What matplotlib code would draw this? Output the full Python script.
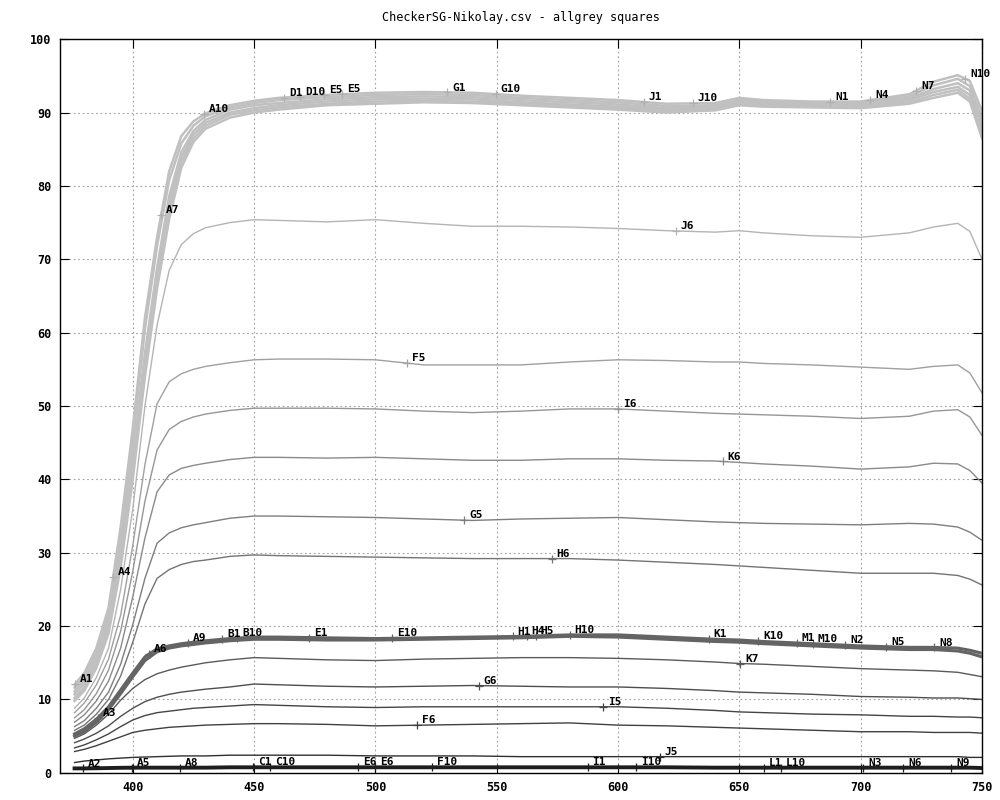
import matplotlib
matplotlib.use("Agg")
import matplotlib.pyplot as plt
import numpy as np

# wavelengths (nm)
W = [376, 380, 385, 390, 395, 400, 405, 410, 415, 420, 425, 430, 440, 450,
     460, 480, 500, 520, 540, 560, 580, 600, 620, 640, 650, 660, 680, 700,
     720, 730, 740, 745, 750]

# white squares (several patches, overlapping)
white_a = [12.0, 13.6, 17.0, 22.5, 33.5, 47.0, 62.0, 73.0, 82.0, 86.8, 88.8, 89.9, 91.0, 91.6,
           92.0, 92.4, 92.7, 92.8, 92.7, 92.3, 92.0, 91.7, 91.2, 91.3, 92.0, 91.7, 91.5, 91.5,
           92.5, 94.2, 95.1, 94.3, 90.2]
white_b = [11.6, 13.1, 16.4, 21.6, 32.2, 45.4, 60.5, 71.8, 80.8, 85.8, 88.2, 89.5, 90.7, 91.3,
           91.7, 92.1, 92.4, 92.5, 92.4, 92.0, 91.7, 91.4, 90.9, 91.0, 91.8, 91.5, 91.3, 91.3,
           92.2, 93.7, 94.6, 93.6, 89.3]
white_c = [11.1, 12.6, 15.8, 20.8, 30.6, 43.2, 57.2, 68.8, 78.6, 84.6, 87.5, 89.0, 90.4, 91.0,
           91.3, 91.8, 92.1, 92.2, 92.1, 91.7, 91.4, 91.1, 90.6, 90.8, 91.6, 91.3, 91.1, 91.1,
           91.9, 93.2, 94.0, 93.0, 88.5]
white_d = [10.7, 12.1, 15.2, 20.2, 29.8, 42.0, 56.0, 67.8, 77.6, 83.9, 87.0, 88.6, 90.0, 90.6,
           91.0, 91.5, 91.8, 91.9, 91.8, 91.4, 91.1, 90.8, 90.4, 90.6, 91.4, 91.2, 91.0, 90.9,
           91.7, 92.8, 93.5, 92.4, 87.8]
white_e = [10.2, 11.6, 14.7, 19.6, 28.8, 41.0, 55.0, 66.9, 76.5, 83.2, 86.5, 88.2, 89.7, 90.3,
           90.7, 91.2, 91.5, 91.6, 91.5, 91.2, 90.9, 90.6, 90.2, 90.4, 91.2, 91.0, 90.8, 90.8,
           91.4, 92.4, 93.1, 91.9, 87.2]
white_f = [9.8, 11.2, 14.3, 19.0, 28.0, 40.0, 54.0, 66.0, 75.5, 82.5, 86.0, 87.8, 89.3, 90.0,
           90.4, 91.0, 91.2, 91.4, 91.3, 91.0, 90.7, 90.4, 90.0, 90.3, 91.0, 90.8, 90.7, 90.6,
           91.2, 92.0, 92.7, 91.5, 86.5]

# single grey patches
J6 = [8.8, 10.2, 13.0, 17.0, 25.0, 36.0, 50.0, 61.0, 68.5, 72.0, 73.5, 74.3, 75.0, 75.4,
      75.3, 75.1, 75.4, 74.9, 74.5, 74.5, 74.4, 74.2, 73.9, 73.7, 73.9, 73.6, 73.2, 73.0,
      73.6, 74.4, 74.9, 73.8, 70.0]
F5 = [8.2, 9.5, 12.0, 15.5, 21.5, 31.0, 42.0, 50.3, 53.3, 54.4, 55.0, 55.4, 55.9, 56.3,
      56.4, 56.4, 56.3, 55.6, 55.6, 55.6, 56.0, 56.3, 56.2, 56.0, 56.0, 55.8, 55.6, 55.3,
      55.0, 55.4, 55.6, 54.5, 51.8]
I6 = [7.5, 8.6, 10.8, 14.0, 19.3, 27.5, 37.0, 44.0, 46.8, 47.9, 48.5, 48.9, 49.4, 49.7,
      49.7, 49.7, 49.6, 49.3, 49.1, 49.3, 49.6, 49.6, 49.3, 49.0, 48.9, 48.8, 48.6, 48.3,
      48.6, 49.3, 49.5, 48.5, 46.0]
K6 = [6.9, 7.9, 9.8, 12.5, 17.0, 24.0, 32.0, 38.3, 40.6, 41.5, 41.9, 42.2, 42.7, 43.0,
      43.0, 42.9, 43.0, 42.8, 42.6, 42.6, 42.8, 42.8, 42.6, 42.5, 42.3, 42.1, 41.8, 41.4,
      41.7, 42.2, 42.1, 41.2, 39.5]
G5 = [6.3, 7.1, 8.8, 11.0, 14.8, 20.2, 26.5, 31.3, 32.7, 33.4, 33.8, 34.1, 34.7, 35.0,
      35.0, 34.9, 34.8, 34.6, 34.4, 34.6, 34.7, 34.8, 34.5, 34.2, 34.1, 34.0, 33.9, 33.8,
      34.0, 33.9, 33.5, 32.8, 31.7]
H6 = [5.8, 6.5, 8.0, 10.0, 13.2, 17.8, 23.0, 26.5, 27.7, 28.4, 28.8, 29.0, 29.5, 29.7,
      29.6, 29.5, 29.4, 29.3, 29.2, 29.2, 29.2, 29.0, 28.7, 28.4, 28.2, 28.0, 27.6, 27.2,
      27.2, 27.2, 26.9, 26.4, 25.6]

# mid grey squares (several patches)
dgrey_a = [5.3, 6.0, 7.3, 9.0, 11.3, 13.6, 15.8, 16.9, 17.3, 17.6, 17.8, 18.0, 18.3, 18.5,
           18.5, 18.4, 18.3, 18.4, 18.5, 18.6, 18.8, 18.8, 18.5, 18.2, 18.1, 17.9, 17.6, 17.3,
           17.1, 17.1, 17.0, 16.7, 16.3]
dgrey_b = [5.0, 5.6, 6.9, 8.6, 10.8, 13.1, 15.3, 16.5, 17.0, 17.3, 17.5, 17.7, 18.0, 18.2,
           18.2, 18.1, 18.1, 18.2, 18.3, 18.4, 18.6, 18.5, 18.2, 17.9, 17.8, 17.6, 17.3, 17.0,
           16.8, 16.8, 16.6, 16.3, 15.8]

K7 = [4.7, 5.3, 6.5, 8.0, 9.9, 11.5, 12.7, 13.5, 14.0, 14.4, 14.7, 15.0, 15.4, 15.7,
      15.6, 15.4, 15.3, 15.5, 15.6, 15.7, 15.7, 15.6, 15.4, 15.1, 14.9, 14.8, 14.5, 14.2,
      14.0, 13.9, 13.7, 13.4, 13.1]
G6 = [4.1, 4.6, 5.4, 6.4, 7.7, 8.8, 9.7, 10.3, 10.7, 11.0, 11.2, 11.4, 11.7, 12.1,
      12.0, 11.8, 11.7, 11.8, 11.9, 11.8, 11.7, 11.7, 11.5, 11.2, 11.0, 10.9, 10.7, 10.4,
      10.3, 10.2, 10.2, 10.1, 10.0]
I5 = [3.4, 3.8, 4.5, 5.3, 6.3, 7.2, 7.8, 8.2, 8.4, 8.6, 8.8, 8.9, 9.1, 9.3,
      9.2, 9.0, 8.9, 9.0, 9.0, 9.0, 9.0, 9.0, 8.8, 8.5, 8.3, 8.2, 8.0, 7.9,
      7.7, 7.7, 7.6, 7.6, 7.5]
F6 = [2.9, 3.2, 3.7, 4.3, 4.9, 5.5, 5.8, 6.0, 6.2, 6.3, 6.4, 6.5, 6.6, 6.7,
      6.7, 6.6, 6.4, 6.5, 6.6, 6.7, 6.8, 6.5, 6.4, 6.2, 6.1, 6.0, 5.8, 5.6,
      5.6, 5.5, 5.5, 5.5, 5.4]
J5 = [1.4, 1.6, 1.75, 1.9, 2.0, 2.1, 2.15, 2.2, 2.25, 2.3, 2.3, 2.3, 2.4, 2.4,
      2.4, 2.4, 2.3, 2.3, 2.3, 2.2, 2.2, 2.2, 2.2, 2.2, 2.2, 2.2, 2.2, 2.2,
      2.2, 2.2, 2.2, 2.1, 2.1]

# black squares
black = [0.6, 0.6, 0.62, 0.65, 0.68, 0.7, 0.7, 0.7, 0.7, 0.7, 0.7, 0.7, 0.75, 0.75,
         0.75, 0.75, 0.75, 0.75, 0.75, 0.75, 0.75, 0.75, 0.75, 0.7, 0.7, 0.7, 0.7, 0.7,
         0.7, 0.7, 0.7, 0.7, 0.65]

# label names and wavelength where each label point sits
white_names = ["A1", "A4", "A7", "A10", "D1", "D10", "E5", "E5",
               "G1", "G10", "J1", "J10", "N1", "N4", "N7", "N10"]
white_pos = [376.2, 391.9, 411.7, 429.4, 462.4, 469.0, 479.0, 486.4,
             529.7, 549.5, 610.6, 630.8, 687.4, 703.9, 722.9, 743.1]
dgrey_names = ["A3", "A6", "A9", "B1", "B10", "E1", "E10", "H1", "H4", "H5",
               "H10", "K1", "K10", "M1", "M10", "N2", "N5", "N8"]
dgrey_pos = [385.7, 406.7, 422.8, 436.9, 443.0, 472.8, 507.0, 556.5, 562.3, 566.0,
             580.1, 637.4, 657.7, 673.8, 680.4, 693.6, 710.5, 730.3]
black_names = ["A2", "A5", "A8", "C1", "C10", "E6", "E6", "F10",
               "I1", "I10", "L1", "L10", "N3", "N6", "N9"]
black_pos = [379.5, 399.7, 419.5, 449.7, 456.7, 493.0, 500.0, 523.5,
             587.5, 607.3, 660.1, 667.2, 701.0, 717.5, 737.3]

single_names = ["J6", "F5", "I6", "K6", "G5", "H6", "K7", "G6", "I5", "F6", "J5"]
single_pos = [623.8, 513.2, 599.9, 643.2, 536.7, 572.6, 650.3, 542.5, 593.7, 517.3, 617.2]

FONT = "DejaVu Sans Mono"

fig = plt.figure(figsize=(10, 8), dpi=100)
ax = fig.add_axes([0.06, 0.034, 0.922, 0.917])


def label_points(names, pos, curve, color):
    ys = np.interp(pos, W, curve)
    for name, x, y in zip(names, pos, ys):
        ax.plot([x], [y], marker="+", ms=6, mew=0.9, color=color, zorder=5)
        ax.annotate(name, (x, y), xytext=(3.5, 3.5), textcoords="offset points",
                    ha="left", va="center", fontsize=8, fontweight="bold",
                    family=FONT, color="black", zorder=6)


# white group
for c in [white_f, white_e, white_d, white_c, white_b, white_a]:
    ax.plot(W, c, color="#c0c0c0", lw=1.8, zorder=2)

singles = [(J6, "#b4b4b4"), (F5, "#a0a0a0"), (I6, "#969696"), (K6, "#8a8a8a"),
           (G5, "#7e7e7e"), (H6, "#747474"), (K7, "#5a5a5a"), (G6, "#4e4e4e"),
           (I5, "#444444"), (F6, "#404040"), (J5, "#303030")]
for c, col in singles:
    ax.plot(W, c, color=col, lw=1.0, zorder=2)

for c in [dgrey_b, dgrey_a]:
    ax.plot(W, c, color="#646464", lw=2.2, zorder=3)

ax.plot(W, black, color="#1e1e1e", lw=2.8, zorder=3)

label_points(white_names, white_pos, white_a, "#b0b0b0")
label_points(dgrey_names, dgrey_pos, dgrey_a, "#646464")
label_points(black_names, black_pos, black, "#1e1e1e")
for (c, col), name, x in zip(singles, single_names, single_pos):
    label_points([name], [x], c, col)

ax.set_xlim(370, 750)
ax.set_ylim(0, 100)
ax.set_xticks([400, 450, 500, 550, 600, 650, 700, 750])
ax.set_yticks(range(0, 101, 10))
ax.grid(True, color="#a0a0a0", lw=0.8, linestyle=(0, (1.5, 2.5)))
ax.set_axisbelow(True)
ax.tick_params(direction="in", length=6.5, width=0.8, top=True, right=True,
               labelsize=8.5, pad=6)
for lab in ax.get_xticklabels() + ax.get_yticklabels():
    lab.set_family(FONT)
    lab.set_fontweight("bold")
for s in ax.spines.values():
    s.set_linewidth(1.0)

fig.text(0.521, 1 - 18 / 800, "CheckerSG-Nikolay.csv - allgrey squares",
         ha="center", va="center", fontsize=8.5, family=FONT)

fig.savefig("out.png", dpi=100)
